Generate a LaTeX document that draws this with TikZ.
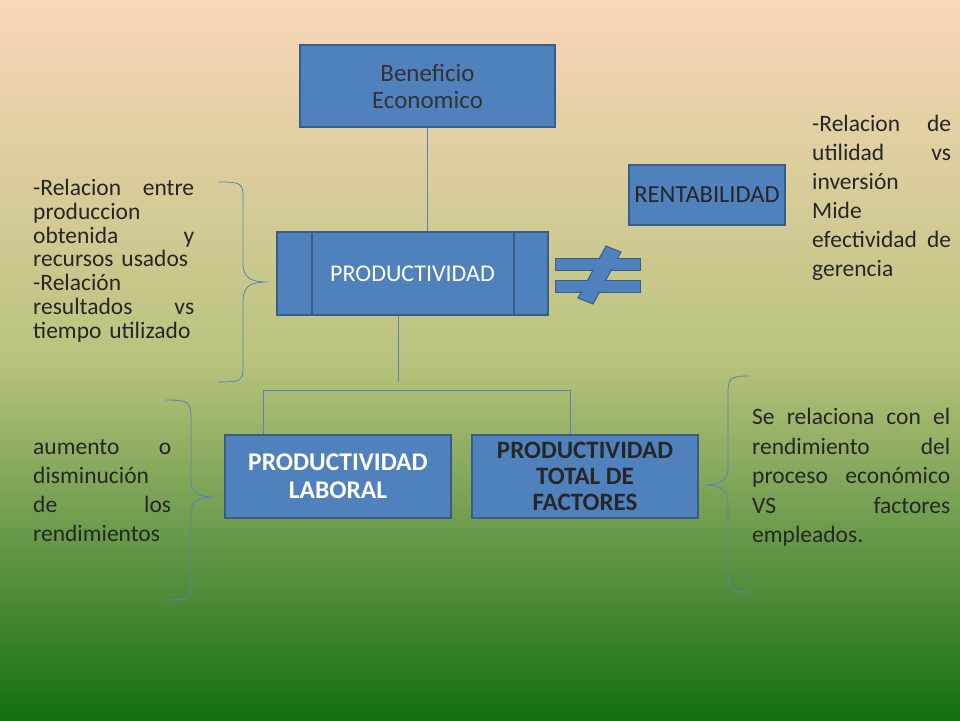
\documentclass[tikz,border=0pt]{standalone}
\usepackage{fontspec}
\setmainfont{Carlito}
\begin{document}
\begin{tikzpicture}[x=1pt,y=-1pt,
  box/.style={draw=boxline,line width=1.5pt,fill=boxblue,inner sep=0pt,align=center},
  conn/.style={draw=linecol,line width=0.6pt},
  brace/.style={draw=linecol,line width=0.8pt},
  txt/.style={align=left,text=black!85,inner sep=0pt,anchor=north west}]
\definecolor{boxblue}{RGB}{79,129,189}
\definecolor{boxline}{RGB}{56,93,138}
\definecolor{linecol}{RGB}{90,130,190}
\definecolor{bgtop}{RGB}{250,215,185}
\definecolor{bgmid}{RGB}{185,195,125}
\definecolor{bgbot}{RGB}{20,110,20}
\shade[top color=bgtop,bottom color=bgmid] (0,0) rectangle (960,361);
\shade[top color=bgmid,bottom color=bgbot] (0,360) rectangle (960,720);
\useasboundingbox (0,0) rectangle (960,720);

\node[box,minimum width=255,minimum height=82,font=\fontsize{25}{27}\selectfont,text=black!80] (ben) at (427.5,86) {Beneficio\\Economico};
\node[box,minimum width=271,minimum height=83,font=\fontsize{24}{26}\selectfont,text=white] (prod) at (412.5,273.5) {PRODUCTIVIDAD};
\draw[boxline,line width=1.5pt] (312,233) -- (312,314) (514,233) -- (514,314);
\node[box,minimum width=156,minimum height=60,font=\fontsize{24.5}{26}\selectfont,text=black!85] (rent) at (707,195) {RENTABILIDAD};
\node[box,minimum width=226,minimum height=83,font=\bfseries\fontsize{25.5}{28}\selectfont,text=white] (lab) at (338,476.5) {PRODUCTIVIDAD\\LABORAL};
\node[box,minimum width=226,minimum height=83,font=\bfseries\fontsize{25}{26}\selectfont,text=black!85] (tot) at (585,476.5) {PRODUCTIVIDAD\\TOTAL DE\\FACTORES};

\draw[conn] (ben.south) -- (prod.north -| ben.south);
\coordinate (pd) at (398,382);
\draw[conn] (prod.south -| pd) -- (pd);
\coordinate (l1) at (263,390); \coordinate (l2) at (570,390);
\draw[conn] (lab.north -| l1) -- (l1) -- (l2) -- (tot.north -| l2);

% not-equal sign
\begin{scope}[fill=boxblue,draw=boxline,line width=1pt]
\filldraw (555,258) rectangle (640,270);
\filldraw (555,280) rectangle (640,292);
\filldraw (606,246) -- (621,252) -- (593,304) -- (578,298) -- cycle;
\fill (580,259) rectangle (620,269) (575,281) rectangle (615,291);
\end{scope}

% braces
\coordinate (b1) at (268,282);
\draw[brace] (218,182) .. controls (245,182) and (243,184) .. (243,205) -- (243,262) .. controls (243,278) and (250,282) .. (b1) .. controls (250,282) and (243,286) .. (243,302) -- (243,360) .. controls (243,380) and (245,382) .. (218,382);
\coordinate (b2) at (215,497);
\draw[brace] (165,400) .. controls (190,400) and (191,402) .. (191,420) -- (191,480) .. controls (191,493) and (198,497) .. (b2) .. controls (198,497) and (191,501) .. (191,514) -- (191,580) .. controls (191,598) and (190,600) .. (165,600);
\coordinate (b3) at (705,485);
\draw[brace] (750,376) .. controls (729,376) and (728,378) .. (728,396) -- (728,468) .. controls (728,480) and (720,485) .. (b3) .. controls (720,485) and (728,490) .. (728,502) -- (728,572) .. controls (728,590) and (729,592) .. (750,592);

\node[txt,text width=161,font=\fontsize{23.5}{23.8}\selectfont] (t1) at (33,179) {-Relacion\hfill entre\\produccion\\obtenida\hfill y\\recursos usados\\-Relación\\resultados\hfill vs\\tiempo utilizado};
\node[txt,text width=138,font=\fontsize{23.5}{29}\selectfont] (t2) at (33,439) {aumento\hfill o\\disminución\\de\hfill los\\rendimientos};
\node[txt,text width=139,font=\fontsize{23.5}{29}\selectfont] (t3) at (812,115) {-Relacion\hfill de\\utilidad\hfill vs\\inversión\\Mide\\efectividad\hfill de\\gerencia};
\node[txt,text width=198,font=\fontsize{23.5}{29.5}\selectfont] (t4) at (752,408) {Se\hfill relaciona\hfill con\hfill el\\rendimiento\hfill del\\proceso\hfill económico\\VS\hfill factores\\empleados.};
\end{tikzpicture}
\end{document}
